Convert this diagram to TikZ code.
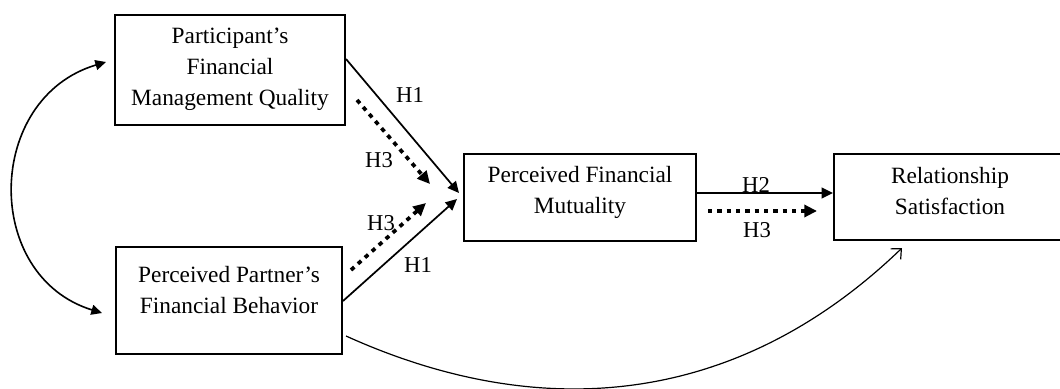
\documentclass[tikz,border=0pt]{standalone}
\usepackage{fontspec}
\setmainfont{Liberation Serif}
\usetikzlibrary{arrows.meta,calc}
\begin{document}
\begin{tikzpicture}[x=0.75pt,y=-0.75pt,
  box/.style={draw, line width=1.5pt, rectangle, inner sep=0pt},
  txt/.style={align=center, inner sep=0pt, font=\fontsize{17.5}{23.25}\selectfont},
  lab/.style={inner sep=0pt, font=\fontsize{17}{20}\selectfont},
  solidarr/.style={line width=1.3pt, -{Triangle[length=8.5pt,width=8pt]}},
  dotarr/.style={line width=2.8pt, dash pattern=on 3.3pt off 3.7pt, -{Triangle[length=9.5pt,width=9pt]}},
  corr/.style={line width=1.2pt, {Triangle[length=8pt,width=7.5pt]}-{Triangle[length=8pt,width=7.5pt]}},
  direct/.style={line width=0.9pt, -{Straight Barb[length=6pt,width=11pt]}}
]
\path[use as bounding box] (0,0) rectangle (1060,389);
\clip (0,0) rectangle (1060,389);

% boxes
\node[box, minimum width=172.5pt, minimum height=82.5pt] (A) at (230,70) {};
\node[box, minimum width=169.5pt, minimum height=80.25pt] (B) at (229,300.5) {};
\node[box, minimum width=174pt, minimum height=65.25pt] (M) at (580,197.5) {};
\node[box, minimum width=174pt, minimum height=64.5pt] (R) at (950,197) {};

% texts
\node[txt] (At) at ($(A.center)+(0,-1)$) {Participant’s\\Financial\\Management Quality};
\node[txt] (Bt) at ($(B.center)+(0,-10)$) {Perceived Partner’s\\Financial Behavior};
\node[txt] (Mt) at ($(M.center)+(0,-5.5)$) {Perceived Financial\\Mutuality};
\node[txt] (Rt) at ($(R.center)+(0,-6)$) {Relationship\\Satisfaction};

% connector end points
\coordinate (h1as) at ($(A.east)+(0,-11)$);
\coordinate (h1ae) at ($(M.west)+(-4,-4.5)$);
\coordinate (h3as) at (357,100);
\coordinate (h3ae) at (430,184);
\coordinate (h1bs) at ($(B.east)+(0,0.5)$);
\coordinate (h1be) at ($(M.west)+(-6,1.5)$);
\coordinate (h3bs) at (351,270);
\coordinate (h3be) at (426,203);
\coordinate (h2s) at ($(M.east)+(0,-4.5)$);
\coordinate (h2e) at ($(R.west)+(0,-4)$);
\coordinate (h3cs) at (708,211);
\coordinate (h3ce) at (817,211);
\coordinate (ca) at ($(A.west)+(-8,-8)$);
\coordinate (cb) at ($(B.west)+(-13,12.5)$);
\coordinate (ds) at ($(B.east)+(3,35.5)$);
\coordinate (de) at ($(R.south)+(-48,7)$);

% connectors
\draw[solidarr] (h1as) -- (h1ae);
\draw[dotarr] (h3as) -- (h3ae);
\draw[solidarr] (h1bs) -- (h1be);
\draw[dotarr] (h3bs) -- (h3be);
\draw[solidarr] (h2s) -- (h2e);
\draw[dotarr] (h3cs) -- (h3ce);
\draw[corr] (ca) .. controls (-15,98) and (-18,276) .. (cb);
\draw[direct] (ds) .. controls (545,426) and (740,404) .. (de);

% labels
\node[lab] (l1) at (410,95) {H1};
\node[lab] (l2) at (379,160) {H3};
\node[lab] (l3) at (381,223) {H3};
\node[lab] (l4) at (418,265) {H1};
\node[lab] (l5) at (756,185) {H2};
\node[lab] (l6) at (757,230) {H3};
\end{tikzpicture}
\end{document}
